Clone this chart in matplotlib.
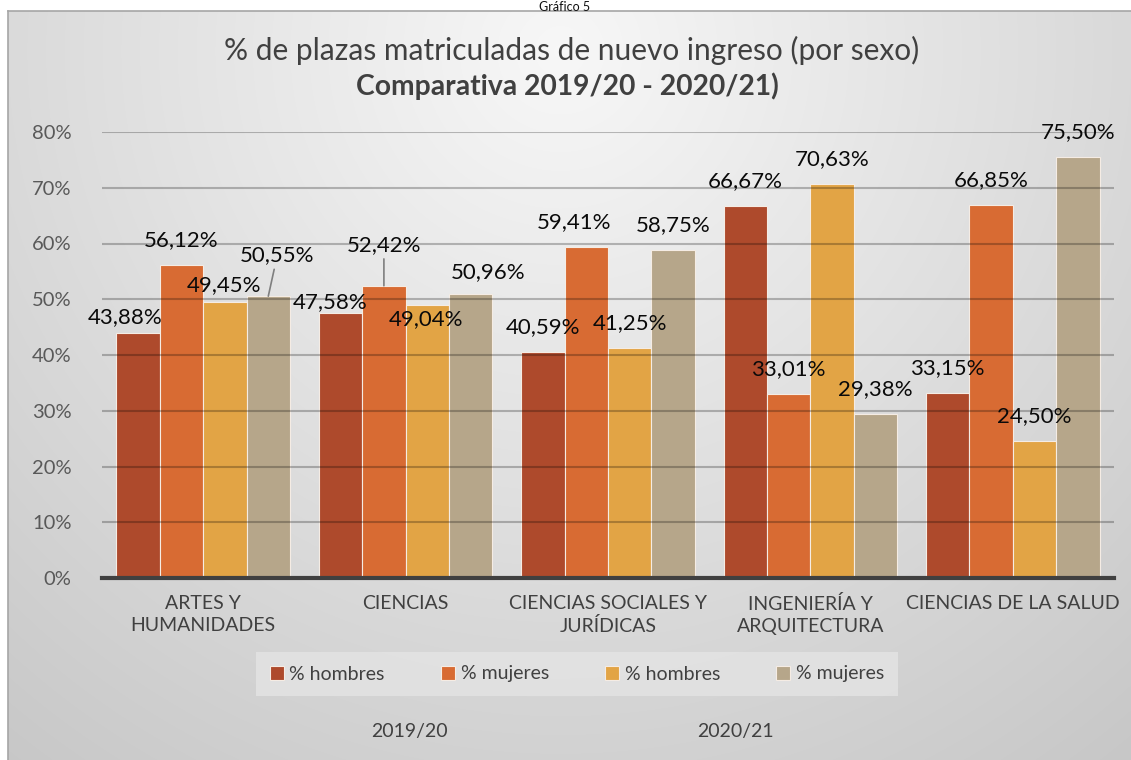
import numpy as np
import matplotlib.pyplot as plt
from matplotlib.patches import Patch

plt.rcParams['font.family'] = ['Lato', 'DejaVu Sans']

categorias = ["ARTES Y\nHUMANIDADES", "CIENCIAS", "CIENCIAS SOCIALES Y\nJURÍDICAS",
              "INGENIERÍA Y\nARQUITECTURA", "CIENCIAS DE LA SALUD"]
hombres_1920 = [43.88, 47.58, 40.59, 66.67, 33.15]
mujeres_1920 = [56.12, 52.42, 59.41, 33.01, 66.85]
hombres_2021 = [49.45, 49.04, 41.25, 70.63, 24.50]
mujeres_2021 = [50.55, 50.96, 58.75, 29.38, 75.50]
series_nombres = ["% hombres", "% mujeres", "% hombres", "% mujeres"]
colores = ["#ae4a2c", "#d86b33", "#e2a445", "#b6a68a"]

# desplazamiento manual de etiquetas (pixeles) respecto a la posicion normal, por serie y categoria
ajuste_dx = [[-13, -10, 0, 0, 0], [0, 0, -12, 0, 0], [-1, -1, 0, 0, 0], [9, 17, 0, 0, 0]]
ajuste_dy = [[-9, -14, 0, 0, 0], [0, 16, 0, 0, 0], [-8, -39, 0, 0, 0], [16, -3, 0, 0, 0]]
con_linea = [[False] * 5, [False, True, False, False, False], [False] * 5,
             [True, False, False, False, False]]

W, H = 1131, 760
fig = plt.figure(figsize=(W / 100, H / 100), dpi=100)
fig.patch.set_facecolor("white")

# fondo gris con degradado radial
bg = fig.add_axes([8 / W, 0, 1 - 8 / W, 749 / H], zorder=-10)
yy, xx = np.mgrid[0:749, 0:1123]
d = np.sqrt((xx - 552) ** 2 + (yy - 40) ** 2)
v = 0.97 - 0.19 * d / 911
bg.imshow(np.dstack([v, v, v]).clip(0, 1), aspect="auto", interpolation="bilinear")
bg.set_xticks([])
bg.set_yticks([])
for s in ["right", "bottom"]:
    bg.spines[s].set_visible(False)
for s in ["top", "left"]:
    bg.spines[s].set_color("#a6a6a6")
    bg.spines[s].set_linewidth(1.2)

ax = fig.add_axes([102 / W, 1 - 578 / H, 1012 / W, 446 / H])
ax.set_facecolor("none")

x = np.arange(len(categorias))
w = 0.2144
series = [hombres_1920, mujeres_1920, hombres_2021, mujeres_2021]
for i, vals in enumerate(series):
    pos = x + (i - 1.5) * w
    ax.bar(pos, vals, w, color=colores[i], edgecolor="#f5ece4", linewidth=0.8, zorder=2)
    for j, val in enumerate(vals):
        txt = f"{val:.2f}%".replace(".", ",")
        dx = ajuste_dx[i][j]
        dy = 25 + ajuste_dy[i][j]
        props = None
        if con_linea[i][j]:
            props = dict(arrowstyle="-", color="#7f7f7f", lw=1.2, shrinkA=1, shrinkB=0)
        ax.annotate(txt, (pos[j], val), xytext=(dx, dy), textcoords="offset pixels",
                    ha="center", va="center", fontsize=16, color="#0a0a0a",
                    arrowprops=props, zorder=5, annotation_clip=False)

ax.set_xlim(-0.5, 4.5)
ax.set_ylim(0, 80)
ax.set_yticks(range(0, 81, 10))
ax.set_yticklabels([f"{t}%" for t in range(0, 81, 10)], fontsize=14.5, color="#595959")
ax.yaxis.grid(True, color="black", alpha=0.25, lw=1.5, zorder=3)
ax.set_axisbelow(False)
ax.set_xticks(x)
ax.set_xticklabels(categorias, fontsize=14, color="#404040", linespacing=1.35)
ax.tick_params(axis="x", length=0, pad=12)
ax.tick_params(axis="y", length=0, pad=22)
for s in ["top", "right", "left"]:
    ax.spines[s].set_visible(False)
ax.spines["bottom"].set_color("#404040")
ax.spines["bottom"].set_linewidth(3)
ax.spines["bottom"].set_zorder(4)

fig.text(572 / W, 1 - 50 / H, "% de plazas matriculadas de nuevo ingreso (por sexo)",
         ha="center", va="center", fontsize=21.5, color="#404040")
fig.text(567 / W, 1 - 86 / H, "Comparativa 2019/20 - 2020/21)",
         ha="center", va="center", fontsize=20.3, color="#404040", fontweight="bold")
fig.text(565 / W, 1 - 1 / H, "Gráfico 5", ha="center", va="top", fontsize=9, color="#111111")

handles = [Patch(facecolor=c, edgecolor="#f5ece4", lw=0.8) for c in colores]
leg = fig.legend(handles, series_nombres, loc="center", bbox_to_anchor=(577 / W, 1 - 674 / H),
                 ncol=4, fontsize=14, frameon=True, fancybox=False, handlelength=0.7,
                 handleheight=0.7, handletextpad=0.3, columnspacing=2.9,
                 borderpad=0.7, borderaxespad=0, labelcolor="#404040")
leg.get_frame().set_facecolor("#e4e4e4")
leg.get_frame().set_edgecolor("none")
leg.get_frame().set_alpha(0.8)

fig.text(409 / W, 1 - 732 / H, "2019/20", ha="center", va="center", fontsize=14, color="#404040")
fig.text(735 / W, 1 - 732 / H, "2020/21", ha="center", va="center", fontsize=14, color="#404040")

fig.savefig("out.png", dpi=100)
